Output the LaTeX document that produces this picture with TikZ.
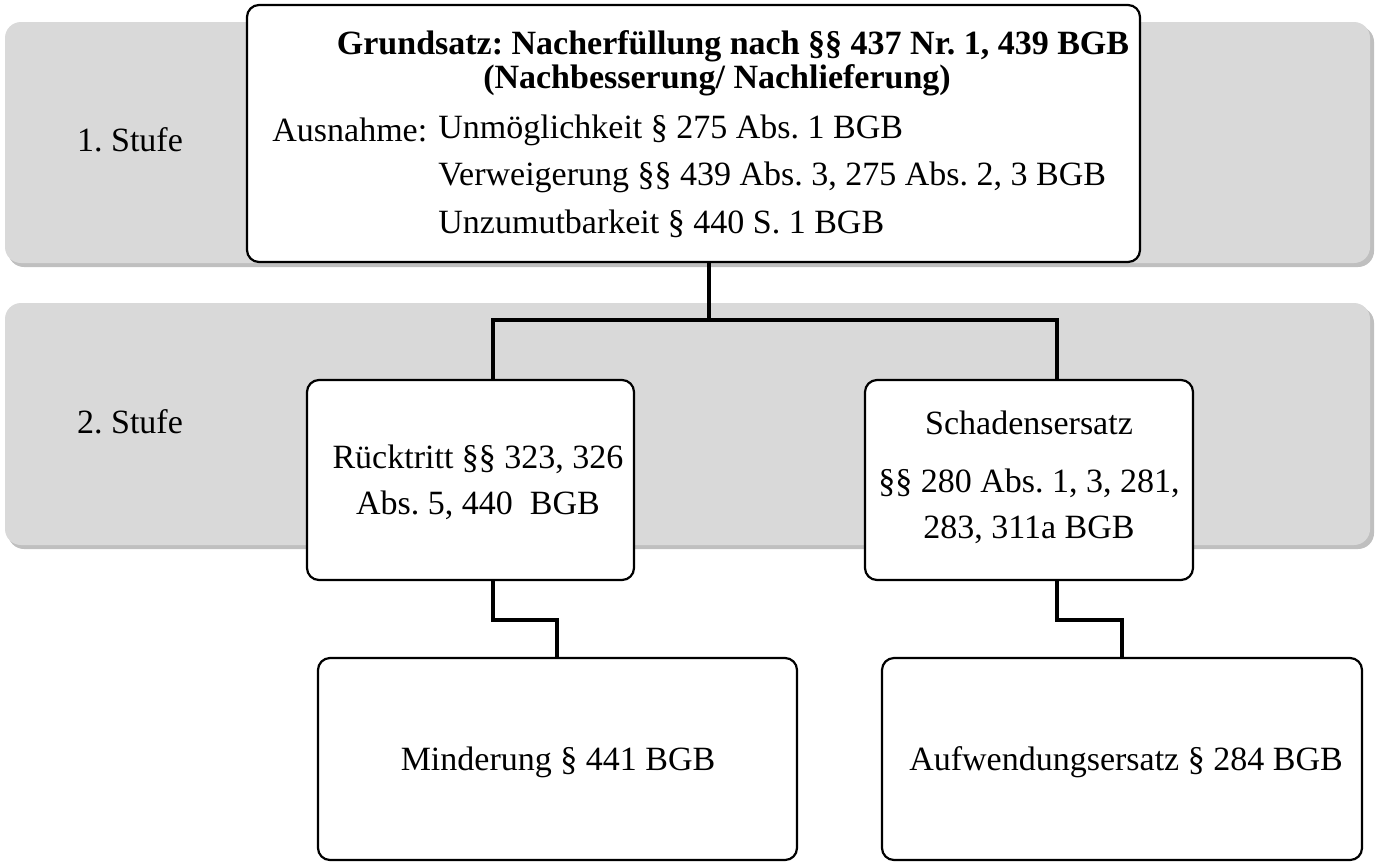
\documentclass[tikz,border=0pt]{standalone}
\usepackage{fontspec}
\setmainfont{Liberation Serif}
\begin{document}
\frenchspacing
\begin{tikzpicture}[x=0.5pt,y=-0.5pt,
  band/.style={fill=black!15,rounded corners=8pt,draw=none},
  box/.style={draw=black,line width=1.1pt,fill=white,rounded corners=6pt},
  conn/.style={line width=1.8pt},
  txt/.style={font=\fontsize{17}{21}\selectfont,align=center}]
\useasboundingbox (0,0) rectangle (1384,863);
\fill[black!25,rounded corners=8pt] (8,26) rectangle (1374,267);
\fill[black!25,rounded corners=8pt] (8,307) rectangle (1374,549);
\fill[band] (5,22) rectangle (1370,263);
\fill[band] (5,303) rectangle (1370,545);
\node[txt] (s1) at (130,140) {1. Stufe};
\node[txt] (s2) at (130,422) {2. Stufe};
\coordinate (j) at (709,320);
\draw[conn] (709,262) -- (j);
\draw[conn] (493,380) |- (j) -| (1057,380);
\draw[conn] (493,580) -- (493,620) -- (557,620) -- (557,658);
\draw[conn] (1057,580) -- (1057,620) -- (1122,620) -- (1122,658);
\draw[box] (247,5) rectangle (1140,262);
\draw[box] (307,380) rectangle (634,580);
\draw[box] (865,380) rectangle (1193,580);
\draw[box] (318,658) rectangle (797,860);
\draw[box] (882,658) rectangle (1362,860);
\node[txt,font=\fontsize{17}{17}\selectfont\bfseries] (g1) at (733,46) {Grundsatz: Nacherfüllung nach §§ 437 Nr. 1, 439 BGB};
\node[txt,font=\fontsize{17}{17}\selectfont\bfseries] (g2) at (717,80) {(Nachbesserung/ Nachlieferung)};
\node[txt,anchor=west,inner sep=0] (a0) at (272,130) {Ausnahme:};
\node[txt,anchor=west,inner sep=0] (a1) at (438,130) {Unmöglichkeit § 275 Abs. 1 BGB};
\node[txt,anchor=west,inner sep=0] (a2) at (438,177) {Verweigerung §§ 439 Abs. 3, 275 Abs. 2, 3 BGB};
\node[txt,anchor=west,inner sep=0] (a3) at (438,224) {Unzumutbarkeit § 440 S. 1 BGB};
\node[txt,font=\fontsize{17}{23}\selectfont] (r) at (478,482) {Rücktritt §§ 323, 326\\Abs. 5, 440\ \ BGB};
\node[txt,font=\fontsize{17}{23}\selectfont] (sz) at (1029,477) {Schadensersatz\\[6pt]§§ 280 Abs. 1, 3, 281,\\283, 311a BGB};
\node[txt] (m) at (558,762) {Minderung § 441 BGB};
\node[txt] (aw) at (1126,762) {Aufwendungsersatz § 284 BGB};
\end{tikzpicture}
\end{document}
